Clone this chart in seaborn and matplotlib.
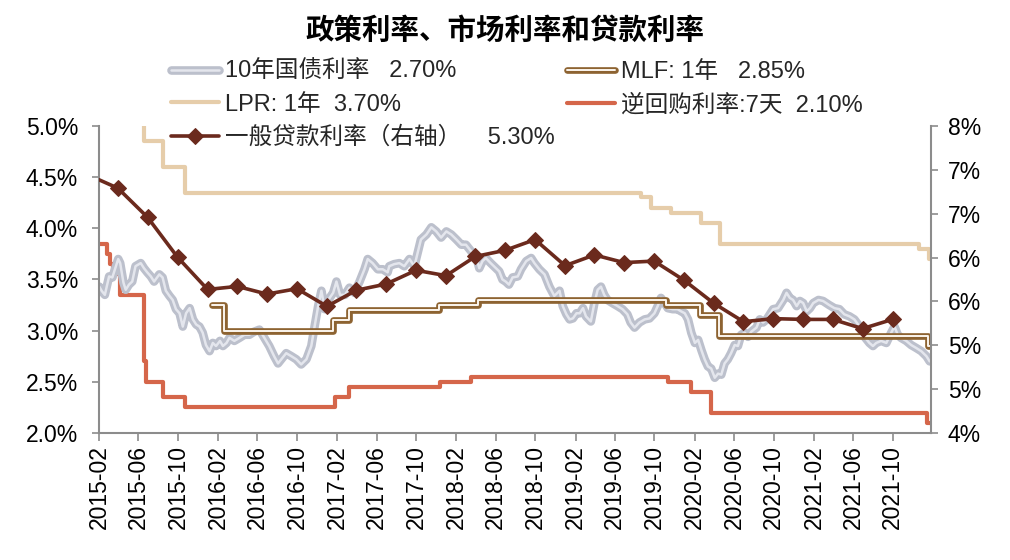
import numpy as np
import pandas as pd
import matplotlib
matplotlib.use("Agg")
import matplotlib.pyplot as plt
import matplotlib.patheffects as pe
import matplotlib.dates as mdates
from matplotlib.ticker import FuncFormatter, FixedLocator
import seaborn as sns

# ---------------- data ----------------
title = "政策利率、市场利率和贷款利率"

bond_label = "10年国债利率   2.70%"
bond_dates = [
    "2015-02-02", "2015-02-09", "2015-02-19", "2015-03-04", "2015-03-14", "2015-04-01", "2015-04-07",
    "2015-04-17", "2015-04-24", "2015-05-04", "2015-05-14", "2015-05-24", "2015-06-09", "2015-06-19",
    "2015-06-29", "2015-07-10", "2015-07-20", "2015-08-05", "2015-08-15", "2015-08-25", "2015-09-05",
    "2015-09-15", "2015-09-25", "2015-10-06", "2015-10-16", "2015-10-26", "2015-11-06", "2015-11-16",
    "2015-11-26", "2015-12-06", "2015-12-16", "2015-12-26", "2016-01-06", "2016-01-16", "2016-01-26",
    "2016-02-07", "2016-02-16", "2016-02-27", "2016-03-07", "2016-03-22", "2016-04-07", "2016-04-22",
    "2016-05-07", "2016-05-22", "2016-06-07", "2016-06-22", "2016-07-07", "2016-07-22", "2016-08-03",
    "2016-08-13", "2016-08-28", "2016-09-13", "2016-09-28", "2016-10-13", "2016-10-29", "2016-11-13",
    "2016-11-23", "2016-12-04", "2016-12-14", "2016-12-24", "2017-01-04", "2017-01-19", "2017-01-29",
    "2017-02-09", "2017-02-24", "2017-03-10", "2017-03-25", "2017-04-10", "2017-04-25", "2017-05-05",
    "2017-05-20", "2017-06-05", "2017-06-20", "2017-07-05", "2017-07-10", "2017-07-25", "2017-08-10",
    "2017-08-25", "2017-09-10", "2017-09-25", "2017-10-05", "2017-10-15", "2017-11-01", "2017-11-16",
    "2017-12-01", "2017-12-16", "2018-01-01", "2018-01-16", "2018-02-01", "2018-02-16", "2018-03-02",
    "2018-03-17", "2018-04-02", "2018-04-12", "2018-04-22", "2018-05-02", "2018-05-17", "2018-06-02",
    "2018-06-12", "2018-06-22", "2018-07-02", "2018-07-12", "2018-07-23", "2018-08-08", "2018-08-18",
    "2018-09-03", "2018-09-18", "2018-09-28", "2018-10-13", "2018-10-29", "2018-11-13", "2018-11-28",
    "2018-12-14", "2018-12-24", "2019-01-04", "2019-01-14", "2019-01-24", "2019-02-04", "2019-02-14",
    "2019-02-24", "2019-03-05", "2019-03-20", "2019-03-31", "2019-04-10", "2019-04-20", "2019-04-30",
    "2019-05-10", "2019-05-25", "2019-06-10", "2019-06-25", "2019-07-10", "2019-07-20", "2019-08-01",
    "2019-08-16", "2019-09-01", "2019-09-16", "2019-10-01", "2019-10-11", "2019-10-21", "2019-11-01",
    "2019-11-11", "2019-11-26", "2019-12-11", "2019-12-21", "2020-01-02", "2020-01-12", "2020-01-22",
    "2020-02-02", "2020-02-12", "2020-02-22", "2020-03-03", "2020-03-13", "2020-03-23", "2020-04-03",
    "2020-04-13", "2020-04-23", "2020-05-03", "2020-05-13", "2020-05-23", "2020-06-03", "2020-06-13",
    "2020-06-23", "2020-07-04", "2020-07-14", "2020-07-24", "2020-08-09", "2020-08-19", "2020-08-29",
    "2020-09-09", "2020-09-19", "2020-09-29", "2020-10-14", "2020-10-30", "2020-11-09", "2020-11-19",
    "2020-11-29", "2020-12-10", "2020-12-20", "2020-12-30", "2021-01-10", "2021-01-20", "2021-01-30",
    "2021-02-15", "2021-03-01", "2021-03-20", "2021-04-05", "2021-04-20", "2021-05-05", "2021-05-21",
    "2021-06-05", "2021-06-21", "2021-07-06", "2021-07-21", "2021-08-01", "2021-08-11", "2021-08-26",
    "2021-09-11", "2021-09-26", "2021-10-06", "2021-10-16", "2021-10-26", "2021-11-11", "2021-11-26",
    "2021-12-12", "2021-12-27", "2022-01-12", "2022-01-22",
]
bond_values = [
    3.43, 3.39, 3.35, 3.53, 3.52, 3.70, 3.66,
    3.47, 3.40, 3.45, 3.48, 3.63, 3.66, 3.61,
    3.57, 3.53, 3.48, 3.55, 3.52, 3.39, 3.34,
    3.30, 3.21, 3.17, 3.04, 3.17, 3.22, 3.11,
    3.06, 3.04, 2.98, 2.86, 2.80, 2.88, 2.85,
    2.90, 2.85, 2.88, 2.93, 2.90, 2.93, 2.96,
    2.96, 2.99, 3.01, 2.93, 2.85, 2.75, 2.68,
    2.72, 2.78, 2.75, 2.72, 2.67, 2.72, 2.85,
    3.04, 3.24, 3.39, 3.21, 3.30, 3.37, 3.48,
    3.35, 3.35, 3.42, 3.37, 3.48, 3.60, 3.70,
    3.66, 3.60, 3.60, 3.57, 3.63, 3.65, 3.66,
    3.63, 3.70, 3.63, 3.76, 3.89, 3.94, 4.01,
    3.97, 3.91, 3.97, 3.94, 3.89, 3.84, 3.84,
    3.78, 3.73, 3.61, 3.68, 3.71, 3.66, 3.61,
    3.58, 3.50, 3.48, 3.45, 3.52, 3.53, 3.60,
    3.68, 3.71, 3.66, 3.60, 3.55, 3.43, 3.34,
    3.39, 3.24, 3.16, 3.11, 3.12, 3.17, 3.17,
    3.22, 3.14, 3.09, 3.27, 3.40, 3.43, 3.35,
    3.30, 3.27, 3.24, 3.21, 3.16, 3.08, 3.03,
    3.08, 3.11, 3.12, 3.17, 3.24, 3.32, 3.27,
    3.22, 3.21, 3.21, 3.19, 3.17, 3.11, 2.98,
    2.88, 2.91, 2.81, 2.72, 2.65, 2.63, 2.54,
    2.58, 2.57, 2.68, 2.72, 2.78, 2.86, 2.85,
    2.96, 2.98, 2.94, 2.99, 3.03, 3.11, 3.08,
    3.11, 3.16, 3.21, 3.22, 3.30, 3.37, 3.32,
    3.30, 3.24, 3.29, 3.27, 3.19, 3.22, 3.27,
    3.30, 3.29, 3.25, 3.22, 3.21, 3.16, 3.14,
    3.11, 3.04, 2.94, 2.88, 2.85, 2.88, 2.90,
    2.88, 2.98, 3.04, 2.96, 2.93, 2.90, 2.86,
    2.83, 2.80, 2.75, 2.70,
]

lpr_label = "LPR: 1年  3.70%"
lpr_dates = ["2015-02-01", "2015-03-01", "2015-05-11", "2015-06-19", "2015-08-15", "2015-10-22",
             "2019-08-20", "2019-09-20", "2019-11-20", "2020-02-20", "2020-04-20", "2021-12-20",
             "2022-01-20", "2022-01-26"]
lpr_values = [5.60, 5.35, 5.10, 4.85, 4.60, 4.35,
              4.31, 4.20, 4.15, 4.05, 3.85, 3.80,
              3.70, 3.70]

mlf_label = "MLF: 1年   2.85%"
mlf_dates = ["2016-01-12", "2016-02-20", "2017-01-20", "2017-03-10", "2017-12-08", "2018-04-08",
             "2019-11-05", "2020-02-17", "2020-04-15", "2022-01-17", "2022-01-26"]
mlf_values = [3.25, 3.00, 3.10, 3.20, 3.25, 3.30,
              3.25, 3.15, 2.95, 2.85, 2.85]

repo_label = "逆回购利率:7天  2.10%"
repo_dates = ["2015-02-01", "2015-02-26", "2015-03-08", "2015-03-17", "2015-04-05", "2015-06-19",
              "2015-06-25", "2015-08-15", "2015-10-22", "2017-01-25", "2017-03-10", "2017-12-12",
              "2018-03-17", "2019-11-11", "2020-01-22", "2020-03-23", "2022-01-14", "2022-01-26"]
repo_values = [3.85, 3.75, 3.65, 3.55, 3.35, 2.70,
               2.50, 2.35, 2.25, 2.35, 2.45, 2.50,
               2.55, 2.50, 2.40, 2.20, 2.10, 2.10]

loan_label = "一般贷款利率（右轴）    5.30%"
loan_dates = ["2014-12-31",
              "2015-03-31", "2015-06-30", "2015-09-30", "2015-12-31",
              "2016-03-31", "2016-06-30", "2016-09-30", "2016-12-31",
              "2017-03-31", "2017-06-30", "2017-09-30", "2017-12-31",
              "2018-03-31", "2018-06-30", "2018-09-30", "2018-12-31",
              "2019-03-31", "2019-06-30", "2019-09-30", "2019-12-31",
              "2020-03-31", "2020-06-30", "2020-09-30", "2020-12-31",
              "2021-03-31", "2021-06-30", "2021-09-30"]
loan_values = [7.36,
               7.19, 6.81, 6.29, 5.87,
               5.91, 5.81, 5.88, 5.65,
               5.86, 5.94, 6.12, 6.05,
               6.30, 6.38, 6.52, 6.18,
               6.32, 6.22, 6.24, 5.99,
               5.69, 5.45, 5.49, 5.48,
               5.48, 5.36, 5.48]

left_ticks = [2.0, 2.5, 3.0, 3.5, 4.0, 4.5, 5.0]
x_start, x_end = "2015-02-01", "2022-01-26"
x_tick_start, x_tick_end = "2015-02-01", "2021-10-01"

# ---------------- style ----------------
sns.set_theme(style="white")
plt.rcParams["font.family"] = ["Liberation Sans", "Noto Sans CJK SC", "DejaVu Sans"]
plt.rcParams["axes.unicode_minus"] = False

C_BOND_OUT, C_BOND_IN = "#bcc0cc", "#e4e6ed"
C_LPR = "#e6cdaa"
C_MLF_OUT, C_MLF_IN = "#8d6331", "#fbf6ee"
C_REPO = "#d5664a"
C_LOAN = "#6b2a1d"
C_SPINE = "#8c8c8c"

fig = plt.figure(figsize=(10.1, 5.6), dpi=100)
ax = fig.add_axes([0.098, 0.2268, 0.8238, 0.5482])
ax2 = ax.twinx()

def to_df(d, v):
    return pd.DataFrame({"date": pd.to_datetime(d), "value": v})

df_repo = to_df(repo_dates, repo_values)
df_lpr = to_df(lpr_dates, lpr_values)
df_bond = to_df(bond_dates, bond_values)
df_mlf = to_df(mlf_dates, mlf_values)
df_loan = to_df(loan_dates, loan_values)

common = dict(x="date", y="value", estimator=None, sort=False, errorbar=None, legend=False)

sns.lineplot(data=df_repo, ax=ax, color=C_REPO, lw=3, drawstyle="steps-post", **common)
h_repo = ax.lines[-1]
sns.lineplot(data=df_lpr, ax=ax, color=C_LPR, lw=3, drawstyle="steps-post", **common)
h_lpr = ax.lines[-1]
sns.lineplot(data=df_bond, ax=ax, color=C_BOND_IN, lw=1.8, **common)
h_bond = ax.lines[-1]
h_bond.set_path_effects([pe.Stroke(linewidth=6.2, foreground=C_BOND_OUT), pe.Normal()])
sns.lineplot(data=df_mlf, ax=ax, color=C_MLF_IN, lw=1.4, drawstyle="steps-post", **common)
h_mlf = ax.lines[-1]
h_mlf.set_path_effects([pe.Stroke(linewidth=4.8, foreground=C_MLF_OUT), pe.Normal()])

sns.lineplot(data=df_loan, ax=ax2, color=C_LOAN, lw=2.6, marker="D", markersize=8.5,
             markeredgecolor=C_LOAN, markerfacecolor=C_LOAN, **common)
h_loan = ax2.lines[-1]

# axes limits / ticks
ax.set_xlim(pd.Timestamp(x_start), pd.Timestamp(x_end))
ax.set_ylim(2.0, 5.0)
ax2.set_ylim(4.0, 8.0)

xt = pd.date_range(x_tick_start, x_tick_end, freq="4MS")
ax.xaxis.set_major_locator(FixedLocator(mdates.date2num(xt)))
ax.xaxis.set_major_formatter(mdates.DateFormatter("%Y-%m"))
ax.yaxis.set_major_locator(FixedLocator(left_ticks))
ax.yaxis.set_major_formatter(FuncFormatter(lambda v, p: f"{v:.1f}%"))
ax2.yaxis.set_major_locator(FixedLocator(np.linspace(4, 8, 8)))
ax2.yaxis.set_major_formatter(FuncFormatter(lambda v, p: f"{v:.0f}%"))

ax.set_xlabel("")
ax.set_ylabel("")
ax2.set_ylabel("")

for lab in ax.get_xticklabels():
    lab.set_rotation(90)

ax.tick_params(axis="x", bottom=True, direction="out", length=6, width=1.2, color=C_SPINE,
               labelsize=16.5, labelcolor="black", pad=3)
ax.tick_params(axis="y", left=True, direction="out", length=5, width=1.2, color=C_SPINE,
               labelsize=16.5, labelcolor="black", pad=10)
ax2.tick_params(axis="y", right=True, direction="out", length=5, width=1.2, color=C_SPINE,
                labelsize=16.5, labelcolor="black", pad=7)

for a in (ax, ax2):
    a.spines["top"].set_visible(False)
    for s in ("left", "right", "bottom"):
        a.spines[s].set_color(C_SPINE)
        a.spines[s].set_linewidth(1.5)
ax.spines["right"].set_visible(False)
ax2.spines["left"].set_visible(False)
ax2.spines["bottom"].set_visible(False)
ax.grid(False)
ax2.grid(False)

# title
fig.text(0.5, 1 - 31 / 560, title, ha="center", va="center", fontsize=20.5, fontweight="bold",
         color="black")

# legends (two columns placed separately)
leg_kw = dict(loc="upper left", frameon=False, fontsize=17, handlelength=2.05,
              handletextpad=0.22, labelspacing=0.45, borderpad=0, borderaxespad=0, numpoints=1)
leg1 = fig.legend([h_bond, h_lpr, h_loan], [bond_label, lpr_label, loan_label],
                  bbox_to_anchor=(171 / 1010, 1 - 61 / 560), **leg_kw)
leg2 = fig.legend([h_mlf, h_repo], [mlf_label, repo_label],
                  bbox_to_anchor=(567 / 1010, 1 - 61 / 560), **leg_kw)

fig.savefig("out.png", dpi=100)
